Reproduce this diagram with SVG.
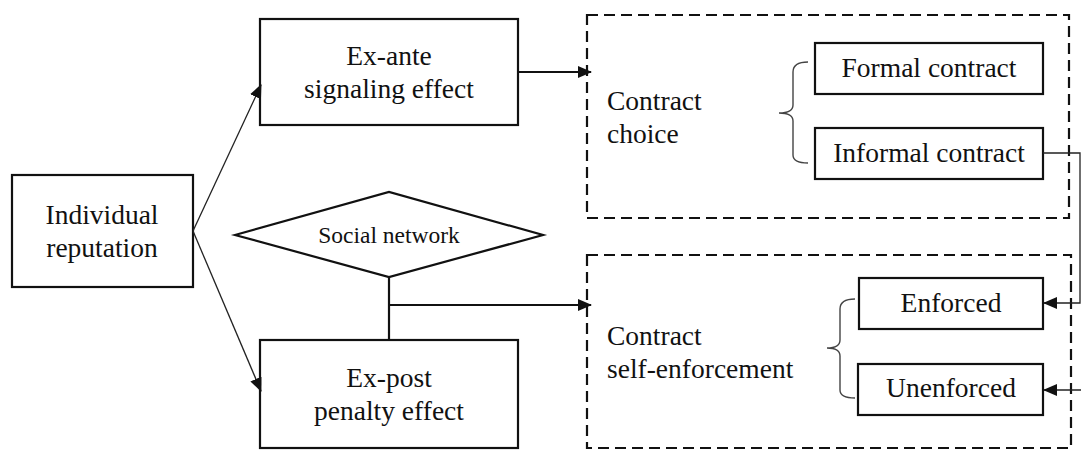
<svg xmlns="http://www.w3.org/2000/svg" width="1081" height="450" viewBox="0 0 1081 450">
<style>
  .box{fill:#fff;stroke:#111;stroke-width:2.2}
  .dash{fill:none;stroke:#111;stroke-width:2.2;stroke-dasharray:11 6}
  text{font-family:'Liberation Serif','Times New Roman','DejaVu Serif',serif;font-size:27.5px;fill:#111}
  .c{text-anchor:middle}
  .s{font-size:23.5px}
  .thin{fill:none;stroke:#222;stroke-width:1.3}
  .thick{fill:none;stroke:#111;stroke-width:2.2}
  .brace{fill:none;stroke:#444;stroke-width:1.4}
</style>
<defs>
  <marker id="ahs" markerWidth="14" markerHeight="14" refX="13" refY="7" orient="auto" markerUnits="userSpaceOnUse" viewBox="0 0 14 14">
    <path d="M0,1 L14,7 L0,13 z" fill="#111"/>
  </marker>
</defs>
<rect width="1081" height="450" fill="#fff"/>

<g id="contract-choice">
  <rect class="dash" x="587" y="15" width="482" height="203"/>
  <text x="607" y="110">Contract</text>
  <text x="607" y="143">choice</text>
  <path class="brace" d="M808,62 Q793,62 793,72 L793,105 Q793,113 779,113 Q793,113 793,121 L793,155 Q793,163 808,163"/>
</g>
<g id="formal-contract">
  <rect class="box" x="815" y="43" width="228" height="51"/>
  <text class="c" x="929" y="77">Formal contract</text>
</g>
<g id="informal-contract">
  <rect class="box" x="815" y="128" width="228" height="51"/>
  <text class="c" x="929" y="162">Informal contract</text>
</g>

<g id="self-enforcement">
  <rect class="dash" x="587" y="255" width="484" height="193"/>
  <text x="607" y="345">Contract</text>
  <text x="607" y="378">self-enforcement</text>
  <path class="brace" d="M855,299 Q840,299 840,309 L840,340 Q840,348 827,348 Q840,348 840,356 L840,390 Q840,398 855,398"/>
</g>
<g id="enforced">
  <rect class="box" x="859" y="278" width="184" height="51"/>
  <text class="c" x="951" y="312">Enforced</text>
</g>
<g id="unenforced">
  <rect class="box" x="858" y="364" width="185" height="51"/>
  <text class="c" x="951" y="397">Unenforced</text>
</g>

<g id="individual-reputation">
  <rect class="box" x="12" y="175" width="181" height="112"/>
  <text class="c" x="102" y="224">Individual</text>
  <text class="c" x="102" y="257">reputation</text>
</g>
<g id="ex-ante">
  <rect class="box" x="260" y="19" width="258" height="106"/>
  <text class="c" x="389" y="65">Ex-ante</text>
  <text class="c" x="389" y="98">signaling effect</text>
</g>
<g id="social-network">
  <polygon class="box" points="235,235 389,192 543,235 389,277"/>
  <text class="c s" x="389" y="243">Social network</text>
</g>
<g id="ex-post">
  <rect class="box" x="260" y="340" width="258" height="108"/>
  <text class="c" x="389" y="387">Ex-post</text>
  <text class="c" x="389" y="420">penalty effect</text>
</g>

<g id="connectors">
  <line class="thin" x1="193" y1="231" x2="261" y2="85" marker-end="url(#ahs)"/>
  <line class="thin" x1="193" y1="231" x2="261" y2="391" marker-end="url(#ahs)"/>
  <line class="thick" x1="518" y1="72" x2="591" y2="72" marker-end="url(#ahs)"/>
  <line class="thick" x1="389" y1="277" x2="389" y2="340"/>
  <line class="thick" x1="389" y1="305" x2="591" y2="305" marker-end="url(#ahs)"/>
  <path class="thin" d="M1043,153 L1080,153 L1080,303 L1044,303" marker-end="url(#ahs)"/>
  <line class="thin" x1="1081" y1="390" x2="1044" y2="390" marker-end="url(#ahs)"/>
</g>
</svg>
